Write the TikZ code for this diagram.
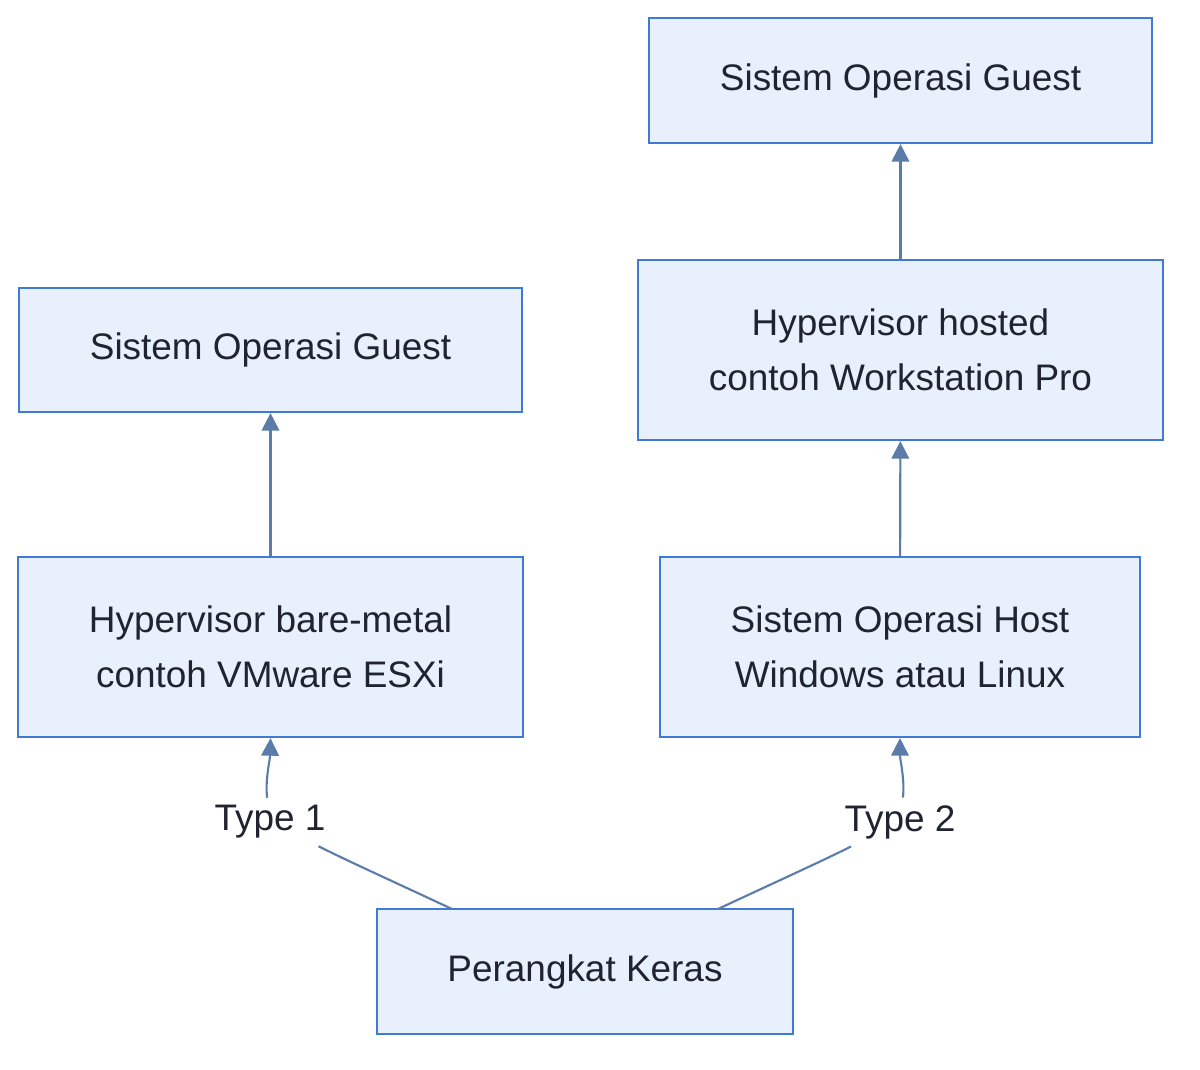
\documentclass[tikz,border=0pt]{standalone}
\usepackage{fontspec}
\setmainfont{Liberation Sans}
\usetikzlibrary{arrows.meta}
\definecolor{boxfill}{HTML}{E8F0FB}
\definecolor{boxline}{HTML}{3F7BD6}
\definecolor{linkcol}{HTML}{5B7BA8}
\definecolor{txt}{HTML}{1F2430}
\begin{document}
\begin{tikzpicture}[
            x = 0.01cm, y = -0.01cm,
            > = {Triangle[length=5pt,width=5pt]},
            every node/.style = {font=\fontsize{10.5}{15.6}\selectfont, text=txt},
            box/.style = {draw=boxline, fill=boxfill, line width=0.6pt, align=center, inner sep=0pt},
            link/.style = {draw=linkcol, line width=0.6pt}
            ]
	\useasboundingbox (0,0) rectangle (1200,1070);

	% type 1 side
	\node[box, minimum width=5.03cm, minimum height=1.24cm] (guest1) at (270.5,350) {Sistem Operasi Guest};
	\node[box, minimum width=5.05cm, minimum height=1.8cm] (hyper1) at (270.5,647) {Hypervisor bare-metal\\contoh VMware ESXi};

	% type 2 side
	\node[box, minimum width=5.03cm, minimum height=1.25cm] (guest2) at (900.5,80.5) {Sistem Operasi Guest};
	\node[box, minimum width=5.25cm, minimum height=1.8cm] (hyper2) at (900.5,350) {Hypervisor hosted\\contoh Workstation Pro};
	\node[box, minimum width=4.8cm, minimum height=1.8cm] (host) at (900,647) {Sistem Operasi Host\\Windows atau Linux};

	% hardware
	\node[box, minimum width=4.16cm, minimum height=1.25cm] (hw) at (585,971.5) {Perangkat Keras};

	% labels
	\node[inner sep=2pt] (type1) at (270,822) {Type 1};
	\node[inner sep=2pt] (type2) at (900,822) {Type 2};
	\coordinate (hwl) at (452,909);
	\coordinate (hwr) at (718,909);

	\path[link] (hwl) .. controls (390,880) and (350,862) .. (type1);
	\path[link, ->] (type1) .. controls (265,780) and (270,760) .. (hyper1.south);
	\path[link] (hwr) .. controls (780,880) and (820,862) .. (type2);
	\path[link, ->] (type2) .. controls (905,780) and (900,760) .. (host.south);

	\path[link, ->] (hyper1) -- (guest1);
	\path[link, ->] (host) -- (hyper2);
	\path[link, ->] (hyper2) -- (guest2);
\end{tikzpicture}
\end{document}
